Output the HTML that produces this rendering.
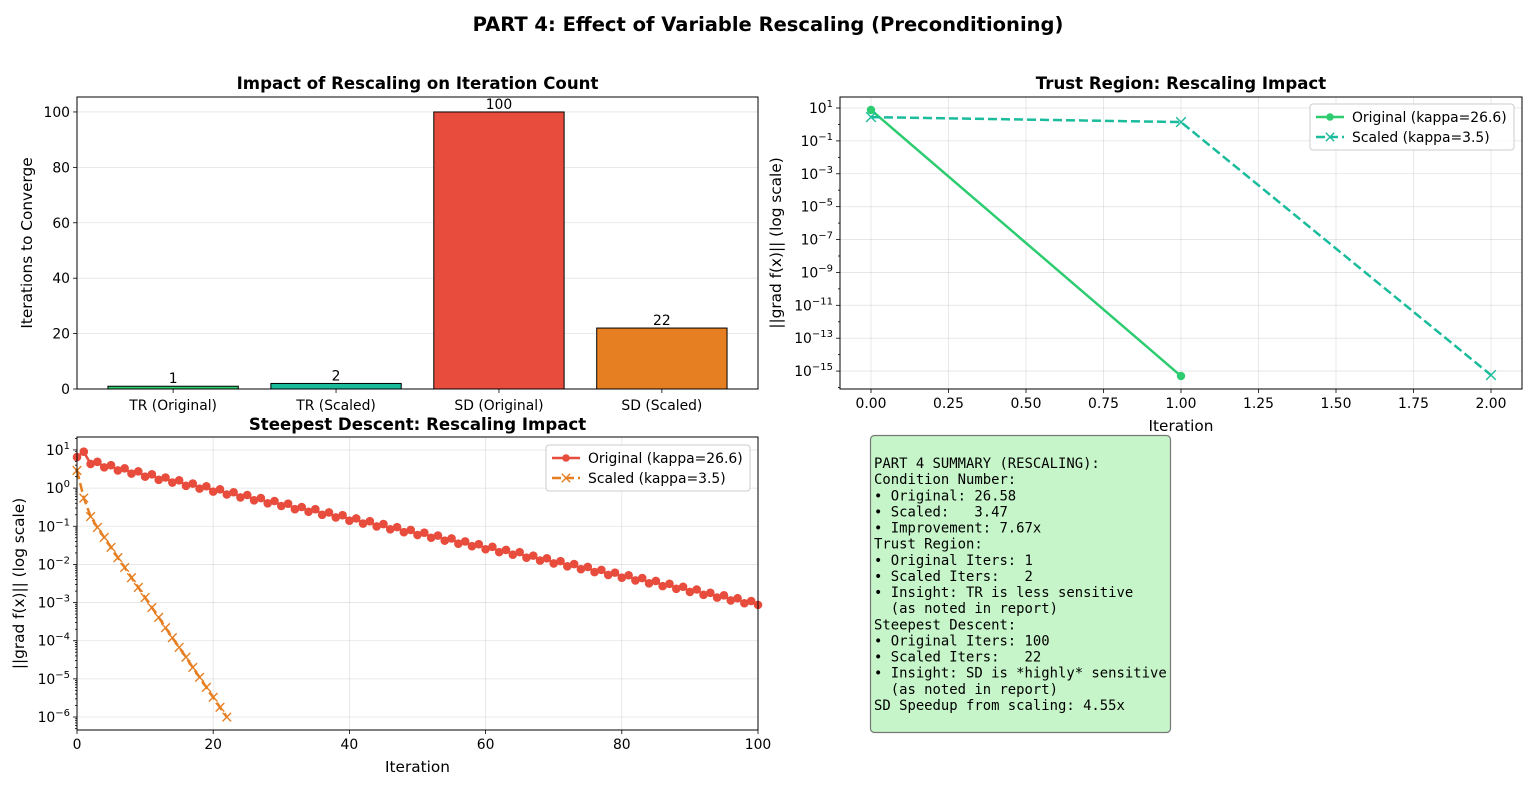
<!DOCTYPE html>
<html><head><meta charset="utf-8"><style>
html,body{margin:0;padding:0;background:#fff}
svg{display:block;font-family:"DejaVu Sans","Liberation Sans",sans-serif}
</style></head><body>
<svg id="fig" width="1536" height="802" viewBox="0 0 1536 802" xmlns="http://www.w3.org/2000/svg">
<text x="768" y="31" text-anchor="middle" font-size="19.5" font-weight="bold">PART 4: Effect of Variable Rescaling (Preconditioning)</text>
<g id="p1"></g>
<g id="p2"></g>
<g id="p3"></g>
<g>
<rect x="870.5" y="435.5" width="300" height="297" rx="4" fill="#c6f5c9" stroke="#777" stroke-width="1.2"/>
<text font-family="'DejaVu Sans Mono','Liberation Mono',monospace" font-size="13.9" fill="#000" xml:space="preserve">
<tspan x="874" y="468">PART 4 SUMMARY (RESCALING):</tspan>
<tspan x="874" dy="16.13">Condition Number:</tspan>
<tspan x="874" dy="16.13">• Original: 26.58</tspan>
<tspan x="874" dy="16.13">• Scaled:   3.47</tspan>
<tspan x="874" dy="16.13">• Improvement: 7.67x</tspan>
<tspan x="874" dy="16.13">Trust Region:</tspan>
<tspan x="874" dy="16.13">• Original Iters: 1</tspan>
<tspan x="874" dy="16.13">• Scaled Iters:   2</tspan>
<tspan x="874" dy="16.13">• Insight: TR is less sensitive</tspan>
<tspan x="874" dy="16.13">  (as noted in report)</tspan>
<tspan x="874" dy="16.13">Steepest Descent:</tspan>
<tspan x="874" dy="16.13">• Original Iters: 100</tspan>
<tspan x="874" dy="16.13">• Scaled Iters:   22</tspan>
<tspan x="874" dy="16.13">• Insight: SD is *highly* sensitive</tspan>
<tspan x="874" dy="16.13">  (as noted in report)</tspan>
<tspan x="874" dy="16.13">SD Speedup from scaling: 4.55x</tspan>
</text>
</g>
</svg>
<script>
const barCategories = ["TR (Original)","TR (Scaled)","SD (Original)","SD (Scaled)"];
const barValues = [1, 2, 100, 22];
const barColors = ["#2ecc71","#1abc9c","#e74c3c","#e67e22"];
const barYTicks = [0,20,40,60,80,100];

const trIter = [0,1,2];
const trOriginal = [7.6, 5e-16];
const trScaled = [2.8, 1.4, 5.7e-16];
const trXTicks = ["0.00","0.25","0.50","0.75","1.00","1.25","1.50","1.75","2.00"];
const trYExps = [1,-1,-3,-5,-7,-9,-11,-13,-15];

const sdOriginal = [6.5,9.0,4.3,4.9,3.5,4.0,2.9,3.3,2.4,2.75,2.0,2.3,1.65,1.9,1.4,1.6,1.15,1.32,0.97,1.12,
0.81,0.93,0.68,0.78,0.57,0.66,0.48,0.55,0.40,0.46,0.34,0.39,0.28,0.32,0.24,0.28,0.20,0.23,0.17,0.195,
0.14,0.161,0.118,0.136,0.099,0.114,0.083,0.095,0.070,0.080,0.059,0.068,0.050,0.057,0.042,0.048,0.035,0.040,0.030,0.034,
0.025,0.029,0.021,0.024,0.018,0.021,0.015,0.017,0.0126,0.0145,0.0106,0.0122,0.0089,0.0102,0.0075,0.0086,0.0063,0.0072,0.0053,0.0061,
0.0045,0.0052,0.0038,0.0044,0.0032,0.0037,0.0027,0.0031,0.0023,0.0026,0.0019,0.0022,0.0016,0.0018,0.00135,0.00155,0.00114,0.0013,0.00096,0.0011,0.00087];
const sdScaled = [2.9,0.55,0.18,0.093,0.051,0.028,0.015,0.0083,0.0045,0.0025,0.00135,7.4e-4,4.1e-4,2.2e-4,1.2e-4,6.7e-5,3.7e-5,2.0e-5,1.1e-5,6.0e-6,3.3e-6,1.8e-6,1.0e-6];
const sdXTicks = [0,20,40,60,80,100];
const sdYExps = [1,0,-1,-2,-3,-4,-5,-6];

const NS="http://www.w3.org/2000/svg";
const TF=13.9, AF=15.3, TTF=16.6;
const DASH='9,4';
function mk(parent, tag, attrs, text){
  const e=document.createElementNS(NS,tag);
  for(const k in attrs) e.setAttribute(k,attrs[k]);
  if(text!==undefined) e.textContent=text;
  parent.appendChild(e); return e;
}
function frame(g,L,T,R,B){
  const f=mk(g,'rect',{x:L,y:T,width:R-L,height:B-T,fill:'none',stroke:'#000','stroke-width':1});
  
  
}
function grid(g,x1,y1,x2,y2){
  mk(g,'line',{x1,y1,x2,y2,stroke:'#b0b0b0','stroke-opacity':0.35,'stroke-width':0.8});
}
function tick(g,x1,y1,x2,y2){ mk(g,'line',{x1,y1,x2,y2,stroke:'#000','stroke-width':0.8}); }
function powLabel(g,x,y,exp){
  const t=mk(g,'text',{x:x,y:y,'text-anchor':'end','font-size':TF});
  
  
  mk(t,'tspan',{},'10');
  mk(t,'tspan',{dy:-6,'font-size':10},exp<0?'\u2212'+(-exp):String(exp));
  return t;
}
function marker(g,type,x,y,color,size){
  if(type==='o'){ mk(g,'circle',{cx:x,cy:y,r:size,fill:color}); }
  else { const s=size; mk(g,'path',{d:`M${x-s},${y-s}L${x+s},${y+s}M${x-s},${y+s}L${x+s},${y-s}`,stroke:color,'stroke-width':1.4,fill:'none'}); }
}
function legend(g,x,y,w,entries){
  const box=mk(g,'rect',{x:x,y:y,width:w,height:46,rx:3,fill:'#fff','fill-opacity':0.85,stroke:'#ccc'});
  
  
  entries.forEach((en,i)=>{
    const cy=y+13+i*20;
    const eg=mk(g,'g',{});
    
    
    mk(eg,'line',{x1:x+6,y1:cy,x2:x+34,y2:cy,stroke:en.c,'stroke-width':2.5,'stroke-dasharray':en.dash||''});
    marker(eg,en.m,x+20,cy,en.c,en.m==='o'?3.8:4.2);
    mk(eg,'text',{x:x+42,y:cy+5,'font-size':TF},en.t);
  });
}

// ---------- Plot 1: bars ----------
(function(){
  const g=document.getElementById('p1');
  const L=77,R=758,T=97,B=389, xmin=-0.59,xmax=3.59,ymin=0,ymax=105.4;
  const X=v=>L+(v-xmin)/(xmax-xmin)*(R-L);
  const Y=v=>B-(v-ymin)/(ymax-ymin)*(B-T);
  barYTicks.forEach(v=>{grid(g,L,Y(v),R,Y(v)); tick(g,L-4,Y(v),L,Y(v));
    const t=mk(g,'text',{x:L-7,y:Y(v)+5,'text-anchor':'end','font-size':TF},String(v));
     });
  barCategories.forEach((c,i)=>{
    const r=mk(g,'rect',{x:X(i-0.4),y:Y(barValues[i]),width:X(i+0.4)-X(i-0.4),height:Y(0)-Y(barValues[i]),fill:barColors[i],stroke:'#000','stroke-width':1});
    
    
    const v=mk(g,'text',{x:X(i),y:Y(barValues[i])-3,'text-anchor':'middle','font-size':TF},String(barValues[i]));
     
    tick(g,X(i),B,X(i),B+4);
    const t=mk(g,'text',{x:X(i),y:B+21,'text-anchor':'middle','font-size':TF},c);
     
  });
  frame(g,L,T,R,B);
  const yt=mk(g,'text',{x:32,y:(T+B)/2,'text-anchor':'middle','font-size':AF,transform:`rotate(-90 32 ${(T+B)/2})`},'Iterations to Converge');
   
  const tt=mk(g,'text',{x:(L+R)/2,y:89,'text-anchor':'middle','font-size':TTF,'font-weight':'bold'},'Impact of Rescaling on Iteration Count');
   
})();

// ---------- Plot 2: trust region ----------
(function(){
  const g=document.getElementById('p2');
  const L=840,R=1522,T=97,B=389, xmin=-0.1,xmax=2.1, lmin=-16.09,lmax=1.67;
  const X=v=>L+(v-xmin)/(xmax-xmin)*(R-L);
  const Y=v=>B-(Math.log10(v)-lmin)/(lmax-lmin)*(B-T);
  const YL=l=>B-(l-lmin)/(lmax-lmin)*(B-T);
  trXTicks.forEach(s=>{const v=parseFloat(s); grid(g,X(v),T,X(v),B); tick(g,X(v),B,X(v),B+4);
    const t=mk(g,'text',{x:X(v),y:B+19,'text-anchor':'middle','font-size':TF},s);
     });
  for(let e=-16;e<=1;e++){ if(YL(e)<T||YL(e)>B) continue; tick(g,L-(e%2?4:2),YL(e),L,YL(e)); }
  trYExps.forEach(e=>{grid(g,L,YL(e),R,YL(e)); powLabel(g,L-7,YL(e)+5,e);});
  const p1=mk(g,'polyline',{points:trOriginal.map((v,i)=>X(trIter[i])+','+Y(v)).join(' '),fill:'none',stroke:'#2ecc71','stroke-width':2.5});
   
  trOriginal.forEach((v,i)=>marker(g,'o',X(trIter[i]),Y(v),'#2ecc71',4.2));
  const p2=mk(g,'polyline',{points:trScaled.map((v,i)=>X(trIter[i])+','+Y(v)).join(' '),fill:'none',stroke:'#1abc9c','stroke-width':2.5,'stroke-dasharray':DASH});
   
  trScaled.forEach((v,i)=>marker(g,'x',X(trIter[i]),Y(v),'#1abc9c',4.8));
  frame(g,L,T,R,B);
  legend(g,1310,104,204,[{c:'#2ecc71',m:'o',t:'Original (kappa=26.6)'},{c:'#1abc9c',m:'x',t:'Scaled (kappa=3.5)',dash:DASH}]);
  const xt=mk(g,'text',{x:(L+R)/2,y:431,'text-anchor':'middle','font-size':AF},'Iteration');
   
  const yt=mk(g,'text',{x:781,y:(T+B)/2,'text-anchor':'middle','font-size':AF,transform:`rotate(-90 781 ${(T+B)/2})`},'||grad f(x)|| (log scale)');
   
  const tt=mk(g,'text',{x:(L+R)/2,y:89,'text-anchor':'middle','font-size':TTF,'font-weight':'bold'},'Trust Region: Rescaling Impact');
   
})();

// ---------- Plot 3: steepest descent ----------
(function(){
  const g=document.getElementById('p3');
  const L=77,R=758,T=437,B=730, xmin=0,xmax=100, lmin=-6.34,lmax=1.34;
  const X=v=>L+(v-xmin)/(xmax-xmin)*(R-L);
  const Y=v=>B-(Math.log10(v)-lmin)/(lmax-lmin)*(B-T);
  const YL=l=>B-(l-lmin)/(lmax-lmin)*(B-T);
  sdXTicks.forEach(v=>{grid(g,X(v),T,X(v),B); tick(g,X(v),B,X(v),B+4);
    const t=mk(g,'text',{x:X(v),y:B+19,'text-anchor':'middle','font-size':TF},String(v));
     });
  for(let e=-7;e<=1;e++) for(let m=2;m<10;m++){const l=e+Math.log10(m); if(YL(l)>=T&&YL(l)<=B) tick(g,L-2,YL(l),L,YL(l));}
  sdYExps.forEach(e=>{grid(g,L,YL(e),R,YL(e)); tick(g,L-4,YL(e),L,YL(e)); powLabel(g,L-7,YL(e)+5,e);});
  const p1=mk(g,'polyline',{points:sdOriginal.map((v,i)=>X(i)+','+Y(v)).join(' '),fill:'none',stroke:'#e74c3c','stroke-width':2.5});
   
  sdOriginal.forEach((v,i)=>marker(g,'o',X(i),Y(v),'#e74c3c',4.3));
  const p2=mk(g,'polyline',{points:sdScaled.map((v,i)=>X(i)+','+Y(v)).join(' '),fill:'none',stroke:'#e67e22','stroke-width':2.5,'stroke-dasharray':DASH});
   
  sdScaled.forEach((v,i)=>marker(g,'x',X(i),Y(v),'#e67e22',4.3));
  frame(g,L,T,R,B);
  legend(g,546,445,204,[{c:'#e74c3c',m:'o',t:'Original (kappa=26.6)'},{c:'#e67e22',m:'x',t:'Scaled (kappa=3.5)',dash:DASH}]);
  const xt=mk(g,'text',{x:(L+R)/2,y:772,'text-anchor':'middle','font-size':AF},'Iteration');
   
  const yt=mk(g,'text',{x:24,y:(T+B)/2,'text-anchor':'middle','font-size':AF,transform:`rotate(-90 24 ${(T+B)/2})`},'||grad f(x)|| (log scale)');
   
  const tt=mk(g,'text',{x:(L+R)/2,y:430,'text-anchor':'middle','font-size':TTF,'font-weight':'bold'},'Steepest Descent: Rescaling Impact');
   
})();
</script>
</body></html>
